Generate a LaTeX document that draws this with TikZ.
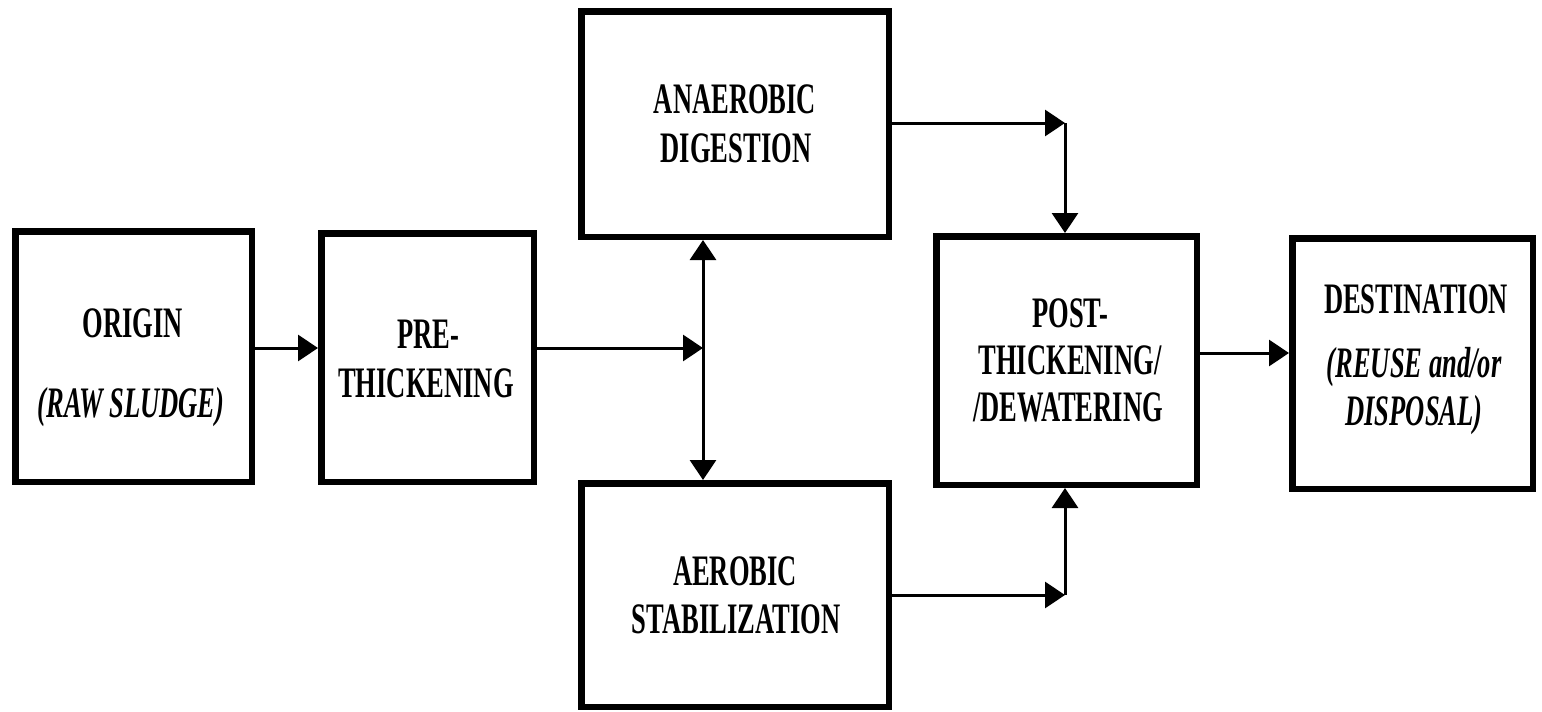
\documentclass[tikz,border=0pt]{standalone}
\usepackage{fontspec}
\setmainfont{Liberation Serif}[FakeStretch=0.61]
\usetikzlibrary{arrows.meta}
\begin{document}
\begin{tikzpicture}[x=1pt,y=-1pt,
  box/.style={draw, line width=6.5pt, rectangle, inner sep=0pt},
  lbl/.style={anchor=base, inner sep=0pt, font=\fontsize{43.5}{49}\selectfont\bfseries},
  ilbl/.style={anchor=base, inner sep=0pt, font=\fontsize{43.5}{49}\selectfont\bfseries\itshape},
  conn/.style={line width=3pt, -{Triangle[length=20pt,width=26pt]}},
  dconn/.style={line width=3pt, {Triangle[length=20pt,width=26pt]}-{Triangle[length=20pt,width=26pt]}},
  plain/.style={line width=3pt}
  ]
\useasboundingbox[fill=white] (0,0) rectangle (1542,712);

% boxes
\node[box, minimum width=236.5pt, minimum height=250.5pt] (origin) at (133.5,356.5) {};
\node[box, minimum width=212.5pt, minimum height=248.5pt] (pre) at (427.5,357.5) {};
\node[box, minimum width=307.5pt, minimum height=225.5pt] (anaer) at (735,124) {};
\node[box, minimum width=307.5pt, minimum height=223.5pt] (aer) at (735,595) {};
\node[box, minimum width=260.5pt, minimum height=248.5pt] (post) at (1066.5,360.5) {};
\node[box, minimum width=240.5pt, minimum height=250.5pt] (dest) at (1412.5,363.5) {};

% labels
\node[lbl] (t-origin1) at (133,337) {ORIGIN};
\node[ilbl] (t-origin2) at (131,417) {(RAW SLUDGE)};
\node[lbl] (t-pre1) at (428,348) {PRE-};
\node[lbl] (t-pre2) at (426,397) {THICKENING};
\node[lbl] (t-anaer1) at (735,113) {ANAEROBIC};
\node[lbl] (t-anaer2) at (736,162) {DIGESTION};
\node[lbl] (t-aer1) at (735,585) {AEROBIC};
\node[lbl] (t-aer2) at (736,633) {STABILIZATION};
\node[lbl] (t-post1) at (1070,327) {POST-};
\node[lbl] (t-post2) at (1070,374) {THICKENING/};
\node[lbl] (t-post3) at (1068,421) {/DEWATERING};
\node[lbl] (t-dest1) at (1416,313) {DESTINATION};
\node[ilbl] (t-dest2) at (1414,377) {(REUSE and/or};
\node[ilbl] (t-dest3) at (1414,425) {DISPOSAL)};

% junctions
\coordinate (j) at (703,348);
\coordinate (k1) at (1065,123);
\coordinate (k2) at (1065,595);
\coordinate (m) at (1245,353);

% connectors
\draw[conn] (origin.east |- j) -- (pre.west |- j);
\draw[conn] (pre.east |- j) -- (j);
\draw[dconn] (anaer.south -| j) -- (aer.north -| j);
\draw[conn] (anaer.east |- k1) -- (k1);
\draw[conn] (k1) -- (post.north -| k1);
\draw[conn] (aer.east |- k2) -- (k2);
\draw[conn] (k2) -- (post.south -| k2);
\draw[conn] (post.east |- m) -- (dest.west |- m);
\end{tikzpicture}
\end{document}
